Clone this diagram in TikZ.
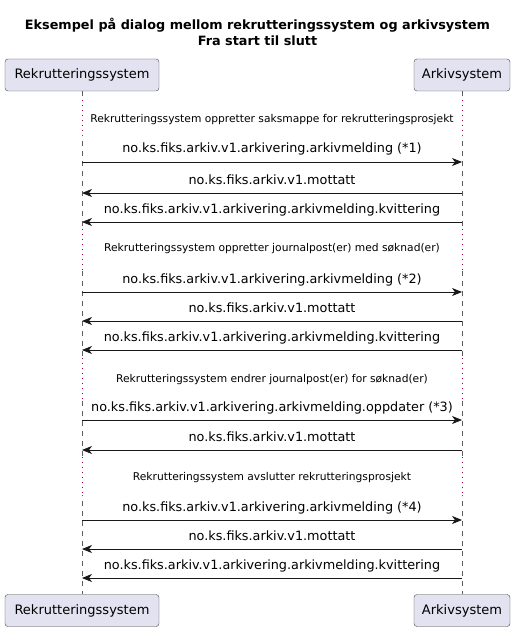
\documentclass[tikz,border=0pt]{standalone}
\usepackage{fontspec}
\setmainfont{DejaVu Sans}
\usetikzlibrary{arrows.meta}
\definecolor{partfill}{HTML}{E2E2F0}
\definecolor{partline}{HTML}{181818}
\definecolor{delayline}{HTML}{A80036}
\tikzstyle{part}=[rectangle, rounded corners=3pt, draw=partline!80, fill=partfill, minimum height=32pt, inner sep=0pt, font=\fontsize{13}{15}\selectfont]
\tikzstyle{life}=[draw=partline!70, dash pattern=on 5pt off 5pt, line width=0.6pt]
\tikzstyle{delay}=[draw=delayline, dash pattern=on 1pt off 4pt, line width=0.9pt]
\tikzstyle{msg}=[-{Stealth[length=10pt,width=8pt,inset=3pt]}, line width=0.8pt, draw=partline]
\tikzstyle{msgtext}=[midway, anchor=base, yshift=9pt, inner sep=0pt, font=\fontsize{12.8}{14}\selectfont]
\tikzstyle{delaytext}=[inner sep=0pt, font=\fontsize{10.7}{13}\selectfont]
\tikzstyle{title}=[align=center, inner sep=0pt, font=\bfseries\fontsize{12.8}{16}\selectfont]

\begin{document}
\begin{tikzpicture}[x=1pt, y=-1pt]
	\useasboundingbox (0,0) rectangle (515,631);
	
	%The title
	\node[title] (title) at (257.5,32) {Eksempel på dialog mellom rekrutteringssystem og arkivsystem\\Fra start til slutt};
	
	%The participants
	\node[part, minimum width=154pt] (rs-top) at (82,75) {Rekrutteringssystem};
	\node[part, minimum width=96pt] (as-top) at (462,75) {Arkivsystem};
	\node[part, minimum width=154pt] (rs-bot) at (82,610.5) {Rekrutteringssystem};
	\node[part, minimum width=96pt] (as-bot) at (462,610.5) {Arkivsystem};
	
	%The lifelines
	\draw[life] (rs-top) -- (rs-bot);
	\draw[life] (as-top) -- (as-bot);
	
	%The delays
	\foreach \n/\a/\b in {1/100/135, 2/229/270, 3/358/400, 4/457/495} {
		\coordinate (rs-d\n-s) at (rs-top |- 0,\a);
		\coordinate (rs-d\n-e) at (rs-top |- 0,\b);
		\coordinate (as-d\n-s) at (as-top |- 0,\a);
		\coordinate (as-d\n-e) at (as-top |- 0,\b);
		\draw[white, line width=2pt] (rs-d\n-s) -- (rs-d\n-e) (as-d\n-s) -- (as-d\n-e);
		\draw[delay] (rs-d\n-s) -- (rs-d\n-e);
		\draw[delay] (as-d\n-s) -- (as-d\n-e);
	}
	\node[delaytext] (d1) at (272,120) {Rekrutteringssystem oppretter saksmappe for rekrutteringsprosjekt};
	\node[delaytext] (d2) at (272,249) {Rekrutteringssystem oppretter journalpost(er) med søknad(er)};
	\node[delaytext] (d3) at (272,380) {Rekrutteringssystem endrer journalpost(er) for søknad(er)};
	\node[delaytext] (d4) at (272,478) {Rekrutteringssystem avslutter rekrutteringsprosjekt};
	
	%The message end points
	\foreach \n/\y in {1/162, 2/193, 3/222, 4/292, 5/321, 6/350, 7/420, 8/450, 9/520, 10/549, 11/578} {
		\coordinate (rs-m\n) at (rs-top |- 0,\y);
		\coordinate (as-m\n) at (as-top |- 0,\y);
	}
	
	%The first dialog
	\draw[msg] (rs-m1) -- (as-m1) node[msgtext] {no.ks.fiks.arkiv.v1.arkivering.arkivmelding (*1)};
	\draw[msg] (as-m2) -- (rs-m2) node[msgtext] {no.ks.fiks.arkiv.v1.mottatt};
	\draw[msg] (as-m3) -- (rs-m3) node[msgtext] {no.ks.fiks.arkiv.v1.arkivering.arkivmelding.kvittering};
	
	%The second dialog
	\draw[msg] (rs-m4) -- (as-m4) node[msgtext] {no.ks.fiks.arkiv.v1.arkivering.arkivmelding (*2)};
	\draw[msg] (as-m5) -- (rs-m5) node[msgtext] {no.ks.fiks.arkiv.v1.mottatt};
	\draw[msg] (as-m6) -- (rs-m6) node[msgtext] {no.ks.fiks.arkiv.v1.arkivering.arkivmelding.kvittering};
	
	%The third dialog
	\draw[msg] (rs-m7) -- (as-m7) node[msgtext] {no.ks.fiks.arkiv.v1.arkivering.arkivmelding.oppdater (*3)};
	\draw[msg] (as-m8) -- (rs-m8) node[msgtext] {no.ks.fiks.arkiv.v1.mottatt};
	
	%The fourth dialog
	\draw[msg] (rs-m9) -- (as-m9) node[msgtext] {no.ks.fiks.arkiv.v1.arkivering.arkivmelding (*4)};
	\draw[msg] (as-m10) -- (rs-m10) node[msgtext] {no.ks.fiks.arkiv.v1.mottatt};
	\draw[msg] (as-m11) -- (rs-m11) node[msgtext] {no.ks.fiks.arkiv.v1.arkivering.arkivmelding.kvittering};
\end{tikzpicture}
\end{document}
